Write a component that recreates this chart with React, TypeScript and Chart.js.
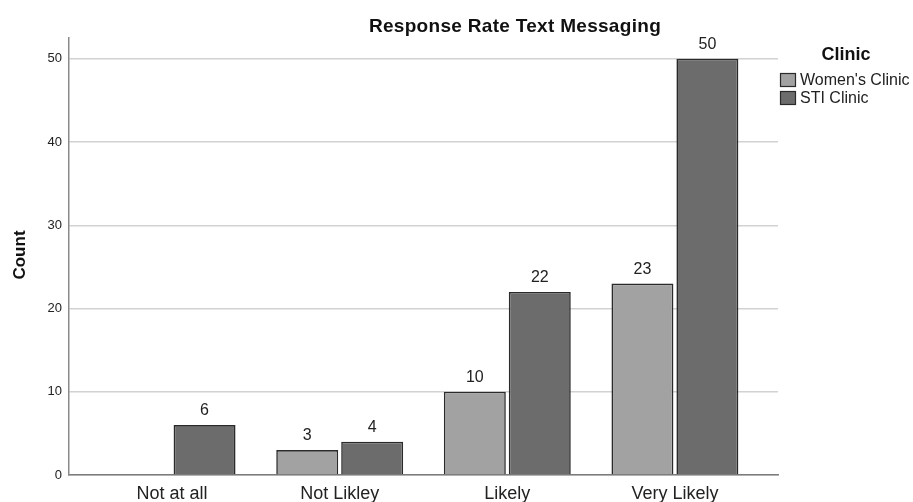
import React, { useEffect, useRef } from "react";
import { Chart, registerables } from "chart.js";

Chart.register(...registerables);

const categories = ["Not at all", "Not Likley", "Likely", "Very Likely"];
const womensClinic: (number | null)[] = [null, 3, 10, 23];
const stiClinic: (number | null)[] = [6, 4, 22, 50];
const seriesNames = ["Women's Clinic", "STI Clinic"];
const yTicks = [0, 10, 20, 30, 40, 50];
const chartTitle = "Response Rate Text Messaging";
const yTitle = "Count";
const legendTitle = "Clinic";

const FILLS = ["#a2a2a2", "#6c6c6c"];
const BORDER = "#2a2a2a";
const FONT = "Arial, 'Liberation Sans', sans-serif";

const overlay = {
  id: "overlay",
  afterDatasetsDraw(chart: any) {
    const ctx = chart.ctx;
    ctx.save();
    // data labels
    ctx.fillStyle = "#222";
    ctx.font = `16px ${FONT}`;
    ctx.textAlign = "center";
    ctx.textBaseline = "alphabetic";
    chart.data.datasets.forEach((ds: any, di: number) => {
      const meta = chart.getDatasetMeta(di);
      meta.data.forEach((el: any, i: number) => {
        const v = ds.data[i].y;
        if (v === null || v === undefined) return;
        ctx.fillText(String(v), el.x, el.y - 10);
      });
    });
    // title
    ctx.font = `bold 19px ${FONT}`;
    (ctx as any).letterSpacing = "0.3px";
    ctx.textBaseline = "middle";
    ctx.fillStyle = "#111";
    ctx.fillText(chartTitle, 515, 27);
    (ctx as any).letterSpacing = "0px";
    // y title
    ctx.save();
    ctx.translate(20, 255);
    ctx.rotate(-Math.PI / 2);
    ctx.font = `bold 17px ${FONT}`;
    ctx.fillText(yTitle, 0, 0);
    ctx.restore();
    // legend
    ctx.font = `bold 18px ${FONT}`;
    ctx.textAlign = "center";
    ctx.fillText(legendTitle, 846, 55);
    ctx.font = `16px ${FONT}`;
    ctx.textAlign = "left";
    seriesNames.forEach((name, i) => {
      const y = 73 + i * 18;
      ctx.fillStyle = FILLS[i];
      ctx.fillRect(780, y, 16, 14);
      ctx.strokeStyle = BORDER;
      ctx.lineWidth = 1.2;
      ctx.strokeRect(780.5, y + 0.5, 15, 13);
      ctx.fillStyle = "#222";
      ctx.fillText(name, 800, y + 8);
    });
    ctx.restore();
  },
};

export default function App() {
  const ref = useRef<HTMLCanvasElement>(null);
  useEffect(() => {
    if (!ref.current) return;
    const chart = new Chart(ref.current, {
      type: "bar",
      data: {
        datasets: [womensClinic, stiClinic].map((arr, di) => ({
          label: seriesNames[di],
          data: arr.map((v, i) => ({ x: i, y: v })) as any,
          backgroundColor: FILLS[di],
          borderColor: BORDER,
          borderWidth: 1.6,
          categoryPercentage: 0.775,
          barPercentage: 0.954,
        })),
      },
      options: {
        animation: false,
        responsive: true,
        maintainAspectRatio: false,
        layout: { padding: { top: 38, right: 135, left: 0, bottom: 0 } },
        plugins: {
          legend: { display: false },
          tooltip: { enabled: false },
          title: { display: false },
        },
        scales: {
          x: {
            type: "linear",
            min: -0.615,
            max: 3.615,
            offset: false,
            afterBuildTicks: (scale: any) => {
              scale.ticks = categories.map((_, i) => ({ value: i }));
            },
            afterFit: (scale: any) => {
              scale.height = 27;
            },
            grid: { display: false, drawTicks: false },
            border: { display: true, color: "#7c7c7c", width: 1.5 },
            ticks: {
              autoSkip: false,
              maxRotation: 0,
              padding: 8,
              color: "#222",
              font: { family: FONT, size: 18 },
              callback: (v: any) => categories[Math.round(Number(v))] ?? "",
            },
          },
          y: {
            min: 0,
            max: 52.5,
            afterBuildTicks: (scale: any) => {
              scale.ticks = yTicks.map((v) => ({ value: v }));
            },
            afterFit: (scale: any) => {
              scale.width = 69;
            },
            grid: { color: "#d2d2d2", lineWidth: 1.5, drawTicks: false },
            border: { display: true, color: "#8a8a8a", width: 1.5 },
            ticks: {
              padding: 7,
              color: "#222",
              font: { family: FONT, size: 13 },
            },
          },
        },
      },
      plugins: [overlay],
    });
    return () => chart.destroy();
  }, []);
  return (
    <div style={{ position: "absolute", left: 0, top: 0, width: 913, height: 502, background: "#fff" }}>
      <canvas ref={ref} />
    </div>
  );
}
